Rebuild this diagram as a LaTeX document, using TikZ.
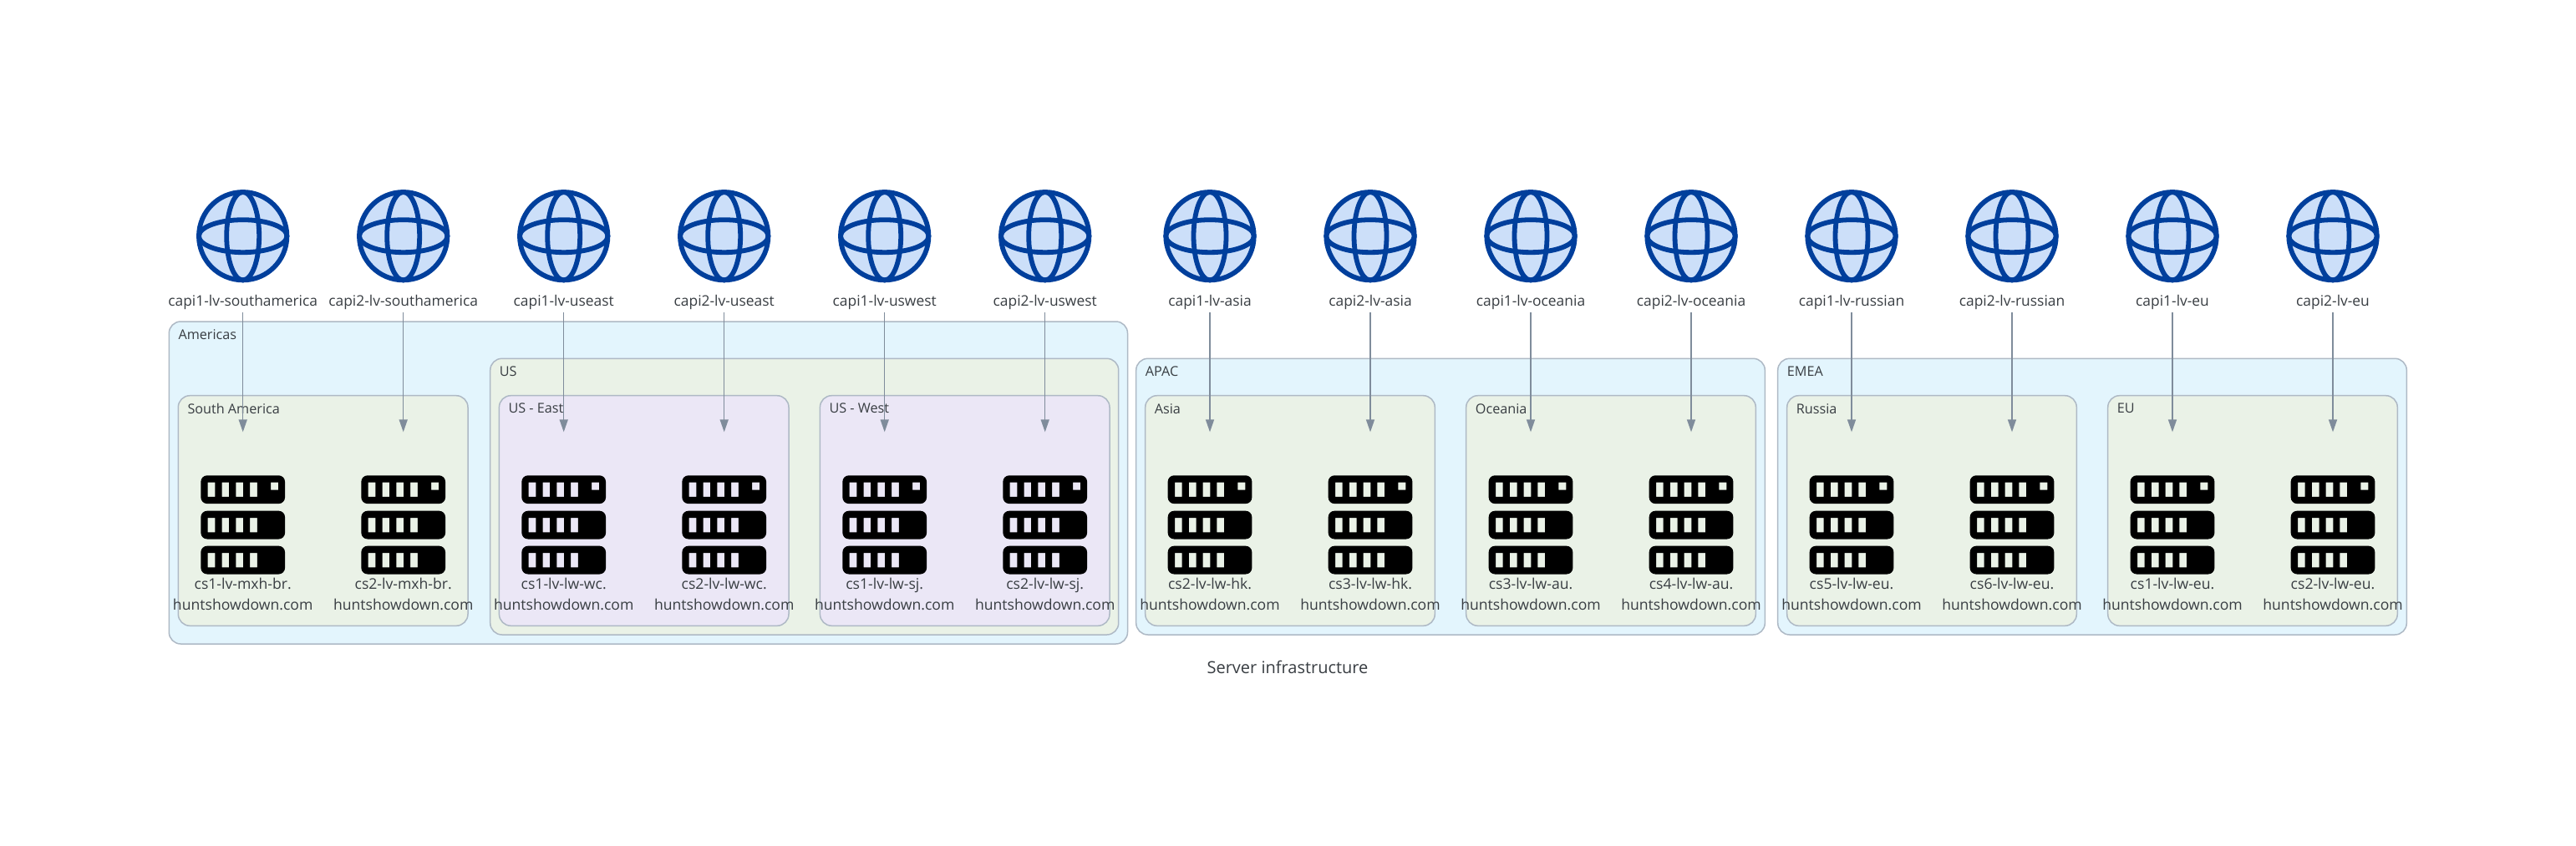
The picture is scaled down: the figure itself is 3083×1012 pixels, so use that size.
\documentclass[tikz,border=0pt]{standalone}
\usepackage{fontspec}
\setmainfont{Open Sans}
\usetikzlibrary{arrows.meta}
\definecolor{txt}{HTML}{383D42}
\definecolor{edge}{HTML}{AEB9C5}
\definecolor{conn}{HTML}{7F8C9B}
\definecolor{gblue}{HTML}{E3F5FD}
\definecolor{ggreen}{HTML}{EAF2E7}
\definecolor{gpurple}{HTML}{EBE7F6}
\definecolor{globeline}{HTML}{003F9C}
\definecolor{globefill}{HTML}{CCDFF9}
\newcommand{\fnt}{\fontsize{17.6}{25}\selectfont}
\newcommand{\grp}[7]{%
  \node[groupbox,fill=#6,minimum width={#4-#2},minimum height={#5-#3}] (#1) at (#2,#3) {};
  \node[grouptitle] (#1title) at (#2+11,#3+15.5) {#7};
}
\tikzset{
  x=1pt,y=-1pt,
  groupbox/.style={draw=edge,line width=1.5pt,rounded corners=14pt,anchor=north west,inner sep=0pt,outer sep=0pt},
  grouptitle/.style={anchor=west,inner sep=0pt,text=txt,font=\fontsize{16.2}{20}\selectfont},
  capilabel/.style={text=txt,font=\fontsize{17.4}{25}\selectfont,inner sep=0pt,outer sep=0pt,minimum height=28pt},
  srvbox/.style={inner sep=0pt,outer sep=0pt,minimum width=100.7pt,minimum height=117.7pt},
  srvlabel/.style={text=txt,font=\fnt,align=center,inner sep=0pt,anchor=north},
  connector/.style={draw=conn,line width=1.5pt,-{Triangle[length=15pt,width=10pt]},shorten >=52pt},
  globe/.pic={
    \draw[globeline,line width=5.8pt,fill=globefill] (0,0) circle (52.7pt);
    \draw[globeline,line width=5.8pt] (0,0) ellipse (19.5pt and 52.7pt);
    \draw[globeline,line width=5.8pt] (0,0) ellipse (52.7pt and 19.5pt);
  },
  rack/.pic={
    \foreach \t/\led in {0/1,42.4/0,84.4/0}{
      \fill[black,even odd rule,rounded corners=7.5pt]
        (-50.35,\t) rectangle (50.35,\t+33.8)
        [sharp corners]
        (-42,\t+8.4) rectangle (-33.3,\t+25.6)
        (-25.2,\t+8.4) rectangle (-16.5,\t+25.6)
        (-8.4,\t+8.4) rectangle (0.3,\t+25.6)
        (8.4,\t+8.4) rectangle (17.1,\t+25.6)
        \ifnum\led=1 (33.4,\t+8.4) rectangle (42.4,\t+17.4)\fi;
    }
  }
}
\begin{document}
\begin{tikzpicture}
\useasboundingbox[fill=white] (0,0) rectangle (3083,1012);
\grp{americas}{202.3}{385}{1349.5}{771}{gblue}{Americas}
\grp{us}{586.7}{429.3}{1338.7}{760}{ggreen}{US}
\grp{apac}{1359.7}{429.3}{2112.3}{760}{gblue}{APAC}
\grp{emea}{2127.7}{429.3}{2880.3}{760}{gblue}{EMEA}
\grp{southamerica}{213.3}{473.7}{560}{749.3}{ggreen}{South America}
\grp{useast}{597.4}{473.7}{944}{749.3}{gpurple}{US - East}
\grp{uswest}{981.4}{473.7}{1328}{749.3}{gpurple}{US - West}
\grp{asia}{1370.7}{473.7}{1717.3}{749.3}{ggreen}{Asia}
\grp{oceania}{1754.7}{473.7}{2101.3}{749.3}{ggreen}{Oceania}
\grp{russia}{2138.7}{473.7}{2485.3}{749.3}{ggreen}{Russia}
\grp{eu}{2522.7}{473.7}{2869.3}{749.3}{ggreen}{EU}
\foreach \x/\capi/\srv [count=\n] in {
  290.7/capi1-lv-southamerica/cs1-lv-mxh-br.,
  482.7/capi2-lv-southamerica/cs2-lv-mxh-br.,
  674.7/capi1-lv-useast/cs1-lv-lw-wc.,
  866.7/capi2-lv-useast/cs2-lv-lw-wc.,
  1058.7/capi1-lv-uswest/cs1-lv-lw-sj.,
  1250.7/capi2-lv-uswest/cs2-lv-lw-sj.,
  1448/capi1-lv-asia/cs2-lv-lw-hk.,
  1640/capi2-lv-asia/cs3-lv-lw-hk.,
  1832/capi1-lv-oceania/cs3-lv-lw-au.,
  2024/capi2-lv-oceania/cs4-lv-lw-au.,
  2216/capi1-lv-russian/cs5-lv-lw-eu.,
  2408/capi2-lv-russian/cs6-lv-lw-eu.,
  2600/capi1-lv-eu/cs1-lv-lw-eu.,
  2792/capi2-lv-eu/cs2-lv-lw-eu.}{
  \pic at (\x,282.7) {globe};
  \node[capilabel] (capi\n) at (\x,361.5) {\capi};
  \node[srvbox] (srv\n) at (\x,628.2) {};
  \pic at (\x,569.3) {rack};
  \node[srvlabel] (srvtext\n) at (\x,692) {\srv\\huntshowdown.com};
  \draw[connector] ([yshift=1.5pt]capi\n.south) -- (srv\n.north);
}
\node[text=txt,font=\fontsize{20}{25}\selectfont,inner sep=0pt] (title) at (1541,799) {Server infrastructure};
\end{tikzpicture}
\end{document}
